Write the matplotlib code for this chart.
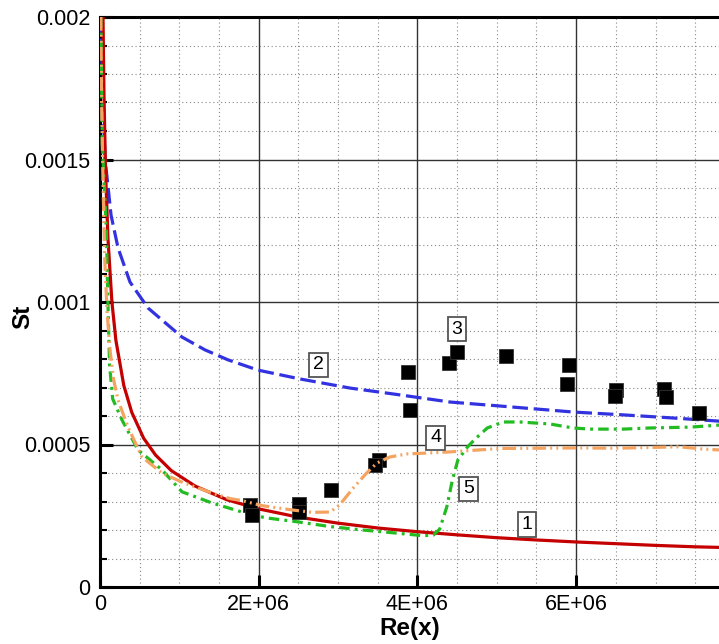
import matplotlib
matplotlib.use('Agg')
from matplotlib import pyplot as plt
from matplotlib.ticker import MultipleLocator

plt.rcParams['font.family'] = ['Liberation Sans', 'DejaVu Sans']

# Re values in millions, St values in 1e-3
# 1 - laminar (red solid)
re_1 = [0.038, 0.05, 0.07, 0.1, 0.15, 0.2, 0.3, 0.4, 0.55, 0.7, 0.9, 1.2, 1.6, 2.0,
        2.5, 3.0, 3.5, 4.0, 4.5, 5.0, 5.5, 6.0, 6.5, 7.0, 7.5, 7.8]
st_1 = [2.0, 1.73, 1.46, 1.225, 1.0, 0.866, 0.707, 0.613, 0.522, 0.463, 0.408, 0.354,
        0.306, 0.274, 0.245, 0.224, 0.207, 0.194, 0.183, 0.173, 0.165, 0.158, 0.152,
        0.146, 0.141, 0.139]

# 2 - turbulent (blue dashed)
re_2 = [0.015, 0.03, 0.063, 0.139, 0.227, 0.378, 0.605, 0.781, 1.033, 1.323, 1.613,
        1.991, 2.52, 3.151, 3.781, 4.411, 5.041, 5.961, 6.591, 7.221, 7.801]
st_2 = [2.0, 1.74, 1.505, 1.305, 1.19, 1.07, 0.979, 0.937, 0.877, 0.832, 0.797,
        0.761, 0.730, 0.698, 0.674, 0.649, 0.635, 0.614, 0.604, 0.593, 0.582]

# 3 - experiment (squares)
re_3 = [1.89, 1.92, 2.51, 2.51, 2.91, 3.52, 3.47, 3.875, 3.91, 4.40, 4.50, 5.12,
        5.91, 5.89, 6.50, 6.49, 7.11, 7.13, 7.55]
st_3 = [0.288, 0.253, 0.291, 0.263, 0.340, 0.446, 0.428, 0.753, 0.621, 0.786, 0.823,
        0.809, 0.779, 0.712, 0.691, 0.670, 0.693, 0.667, 0.611]

# 4 - orange dash-dot-dot
re_4 = [0.01, 0.02, 0.038, 0.06, 0.088, 0.126, 0.17, 0.227, 0.353, 0.529, 0.781,
        1.033, 1.41, 1.64, 1.79, 2.05, 2.43, 2.68, 2.90, 3.02, 3.19, 3.36, 3.49,
        3.65, 3.87, 4.12, 4.41, 5.04, 5.5, 6.0, 6.5, 7.0, 7.3, 7.6, 7.8]
st_4 = [2.0, 1.7, 1.42, 1.15, 0.97, 0.832, 0.73, 0.656, 0.561, 0.456, 0.400, 0.368,
        0.330, 0.310, 0.303, 0.285, 0.270, 0.262, 0.263, 0.288, 0.347, 0.400, 0.435,
        0.456, 0.467, 0.470, 0.474, 0.486, 0.487, 0.488, 0.487, 0.490, 0.492, 0.484,
        0.481]

# 5 - green dash-dot
re_5 = [0.01, 0.03, 0.08, 0.1, 0.12, 0.16, 0.277, 0.479, 0.781, 1.033, 1.41, 1.79,
        2.08, 2.48, 2.90, 3.31, 3.74, 4.07, 4.2, 4.28, 4.37, 4.44, 4.51, 4.63, 4.73,
        4.88, 5.08, 5.29, 5.67, 5.96, 6.18, 6.59, 6.93, 7.44, 7.8]
st_5 = [2.0, 1.55, 1.25, 1.0, 0.78, 0.66, 0.586, 0.481, 0.411, 0.334, 0.295, 0.263,
        0.243, 0.229, 0.212, 0.200, 0.189, 0.180, 0.182, 0.203, 0.281, 0.375, 0.446,
        0.491, 0.52, 0.558, 0.579, 0.579, 0.572, 0.558, 0.554, 0.554, 0.558, 0.561,
        0.568]

# curve number labels
lab_txt = ['1', '2', '3', '4', '5']
lab_re = [5.38, 2.75, 4.50, 4.23, 4.64]
lab_st = [0.218, 0.779, 0.905, 0.523, 0.344]

x_ticks = [0, 2e6, 4e6, 6e6]
x_tick_labels = ['0', '2E+06', '4E+06', '6E+06']
y_ticks = [0, 0.0005, 0.001, 0.0015, 0.002]
y_tick_labels = ['0', '0.0005', '0.001', '0.0015', '0.002']


def sc(re, st):
    return [r * 1e6 for r in re], [s * 1e-3 for s in st]


fig = plt.figure(figsize=(7.19, 6.44), dpi=100)
ax = fig.add_axes([100 / 719, 57 / 644, 619 / 719, 570 / 644])

lw = 2.3
x, y = sc(re_2, st_2)
ax.plot(x, y, color='#3232e0', lw=lw, ls=(0, (4.9, 1.8)), zorder=3)
x, y = sc(re_1, st_1)
ax.plot(x, y, color='#c40000', lw=lw, zorder=3)
x, y = sc(re_5, st_5)
ax.plot(x, y, color='#22bb22', lw=lw, ls=(0, (3.3, 1.6, 0.9, 1.6)), zorder=3)
x, y = sc(re_3, st_3)
ax.plot(x, y, 's', color='black', markersize=10, markeredgecolor='#333333',
        markeredgewidth=0.6, zorder=4)
x, y = sc(re_4, st_4)
ax.plot(x, y, color='#f4a460', lw=lw, ls=(0, (4.3, 1.3, 0.6, 1.3, 0.6, 1.3)), zorder=5)

for t, r, s in zip(lab_txt, lab_re, lab_st):
    ax.text(r * 1e6, s * 1e-3, t, ha='center', va='center', fontsize=14, zorder=6,
            bbox=dict(boxstyle='square,pad=0.2', fc='white', ec='#555555', lw=1.3))

ax.set_xlim(0, 7.8e6)
ax.set_ylim(0, 0.002)
ax.set_xticks(x_ticks, x_tick_labels)
ax.set_yticks(y_ticks, y_tick_labels)
ax.xaxis.set_minor_locator(MultipleLocator(0.5e6))
ax.yaxis.set_minor_locator(MultipleLocator(0.0001))

ax.set_axisbelow(True)
ax.grid(which='major', color='#333333', lw=1.0, ls='-')
ax.grid(which='minor', color='#888888', lw=0.8, ls=(0, (1, 2.5)))

ax.tick_params(which='major', direction='in', length=9, width=2.2, labelsize=15.5)
ax.tick_params(axis='x', which='major', pad=5)
ax.tick_params(axis='y', which='major', pad=7)
ax.tick_params(axis='x', which='minor', length=0)
ax.tick_params(axis='y', which='minor', direction='in', length=5, width=1.5)

for side in ['left', 'bottom', 'top']:
    ax.spines[side].set_linewidth(2.2)
ax.spines['right'].set_visible(False)

ax.set_xlabel('Re(x)', fontsize=17.5, fontweight='bold')
ax.xaxis.set_label_coords(0.5, -0.052)
ax.set_ylabel('St', fontsize=17.5, fontweight='bold')
ax.yaxis.set_label_coords(-0.106, 0.474)

fig.savefig('out.png', dpi=100)
